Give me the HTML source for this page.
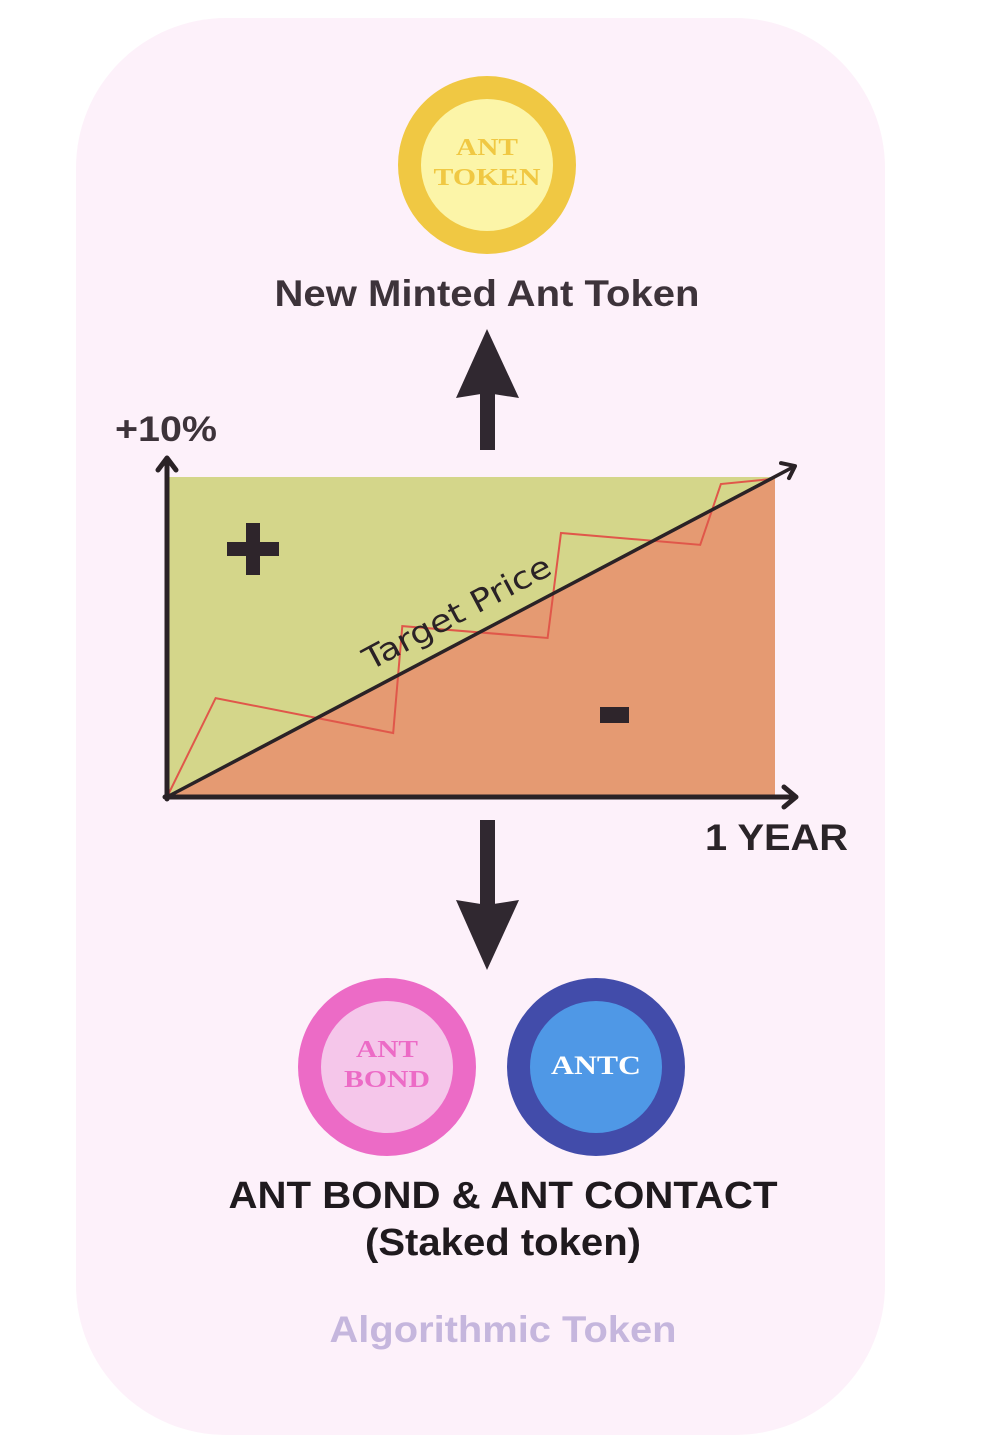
<!DOCTYPE html>
<html><head><meta charset="utf-8"><style>
html,body{margin:0;padding:0;background:#fff;}
svg{display:block;}
.b{font-family:"Liberation Sans",sans-serif;font-weight:bold;}
.s{font-family:"Liberation Serif",serif;font-weight:bold;}
</style></head><body>
<svg width="982" height="1456" viewBox="0 0 982 1456">
<rect x="76" y="18" width="809" height="1417" rx="150" fill="#fdf1fa"/>
<g>
<circle cx="487" cy="165" r="89" fill="#f0c843"/>
<circle cx="487" cy="165" r="66" fill="#fcf5a8"/>
<text class="s" x="487" y="155" font-size="24" fill="#f0c843" text-anchor="middle" textLength="62" lengthAdjust="spacingAndGlyphs">ANT</text>
<text class="s" x="487" y="185" font-size="24" fill="#f0c843" text-anchor="middle" textLength="107" lengthAdjust="spacingAndGlyphs">TOKEN</text>
</g>
<text class="b" x="487" y="306" font-size="37" fill="#3d333a" text-anchor="middle" textLength="425" lengthAdjust="spacingAndGlyphs">New Minted Ant Token</text>
<g fill="#302830">
<rect x="480" y="392" width="15" height="58"/>
<path d="M456 398 L487 329 L519 398 L487 393 Z"/>
</g>
<text class="b" x="115" y="441" font-size="35" fill="#3d333a" textLength="102" lengthAdjust="spacingAndGlyphs">+10%</text>
<svg id="chart" x="0" y="0" width="982" height="1456"></svg>
<text class="b" x="705" y="850" font-size="37" fill="#2a2428" textLength="143" lengthAdjust="spacingAndGlyphs">1 YEAR</text>
<g fill="#302830">
<rect x="480" y="820" width="15" height="85"/>
<path d="M456 900 L487 970 L519 900 L487 905 Z"/>
</g>
<g>
<circle cx="387" cy="1067" r="89" fill="#ec6bc6"/>
<circle cx="387" cy="1067" r="66" fill="#f5c6ea"/>
<text class="s" x="387" y="1057" font-size="24" fill="#ec6bc6" text-anchor="middle" textLength="62" lengthAdjust="spacingAndGlyphs">ANT</text>
<text class="s" x="387" y="1087" font-size="24" fill="#ec6bc6" text-anchor="middle" textLength="86" lengthAdjust="spacingAndGlyphs">BOND</text>
</g>
<g>
<circle cx="596" cy="1067" r="89" fill="#424caa"/>
<circle cx="596" cy="1067" r="66" fill="#4f98e6"/>
<text class="s" x="596" y="1074" font-size="26" fill="#ffffff" text-anchor="middle" textLength="90" lengthAdjust="spacingAndGlyphs">ANTC</text>
</g>
<text class="b" x="503" y="1208" font-size="38" fill="#1f1a1e" text-anchor="middle" textLength="549" lengthAdjust="spacingAndGlyphs">ANT BOND &amp; ANT CONTACT</text>
<text class="b" x="503" y="1255" font-size="38" fill="#1f1a1e" text-anchor="middle" textLength="276" lengthAdjust="spacingAndGlyphs">(Staked token)</text>
<text class="b" x="503" y="1342" font-size="37" fill="#c5b6dd" text-anchor="middle" textLength="347" lengthAdjust="spacingAndGlyphs">Algorithmic Token</text>
</svg>
<script>
const priceX = [0, 0.08, 0.372, 0.387, 0.626, 0.648, 0.877, 0.911, 0.995];
const priceY = [0, 3.09, 2.0, 5.34, 4.97, 8.25, 7.88, 9.78, 9.94];
const targetX = [0, 1];
const targetY = [0, 10];
const yMax = 10;
const X0 = 167, X1 = 775, Y0 = 797, Y1 = 477;
const sx = v => X0 + v * (X1 - X0);
const sy = v => Y0 - v / yMax * (Y0 - Y1);
const NS = "http://www.w3.org/2000/svg";
const c = document.getElementById('chart');
function mk(t, a) { const e = document.createElementNS(NS, t); for (const k in a) e.setAttribute(k, a[k]); c.appendChild(e); return e; }
const bgG = mk('rect', {x: sx(0), y: sy(yMax), width: sx(1) - sx(0), height: sy(0) - sy(yMax), fill: '#d4d68a'});


const below = mk('polygon', {points: `${sx(targetX[0])},${sy(targetY[0])} ${sx(targetX[1])},${sy(targetY[1])} ${sx(1)},${sy(0)}`, fill: '#e59a72'});


const pl = mk('polyline', {points: priceX.map((x, i) => sx(x) + ',' + sy(priceY[i])).join(' '), fill: 'none', stroke: '#e0574a', 'stroke-width': 2});


const tx1 = sx(targetX[1]), ty1 = sy(targetY[1]);
const ex = tx1 + 20, ey = ty1 - 10.9;
const tl = mk('line', {x1: sx(targetX[0]), y1: sy(targetY[0]), x2: ex, y2: ey, stroke: '#2a2226', 'stroke-width': 3.5});


const ah = mk('path', {d: `M${ex-14},${ey-3} L${ex},${ey} L${ex-6},${ey+12}`, fill: 'none', stroke: '#2a2226', 'stroke-width': 4, 'stroke-linecap': 'round', 'stroke-linejoin': 'round'});


const lbl = mk('text', {x: 0, y: 0, 'font-family': '"DejaVu Sans",sans-serif', 'font-size': 31, fill: '#2a2226', 'text-anchor': 'middle', textLength: 208, lengthAdjust: 'spacingAndGlyphs', transform: 'translate(462,622) rotate(-28)'});
lbl.textContent = 'Target Price';


const ya = mk('path', {d: `M167,799 L167,458 M158,470 L167,458 L176,470`, fill: 'none', stroke: '#2a2226', 'stroke-width': 5, 'stroke-linecap': 'round', 'stroke-linejoin': 'round'});


const xa = mk('path', {d: `M165,797 L796,797 M784,787 L796,797 L784,807`, fill: 'none', stroke: '#2a2226', 'stroke-width': 5, 'stroke-linecap': 'round', 'stroke-linejoin': 'round'});


const p1 = mk('path', {d: 'M227,542 H279 V556 H227 Z M246,523 H260 V575 H246 Z', fill: '#2e252b'});


const m1 = mk('rect', {x: 600, y: 707, width: 29, height: 16, fill: '#2e252b'});


</script>
</body></html>
